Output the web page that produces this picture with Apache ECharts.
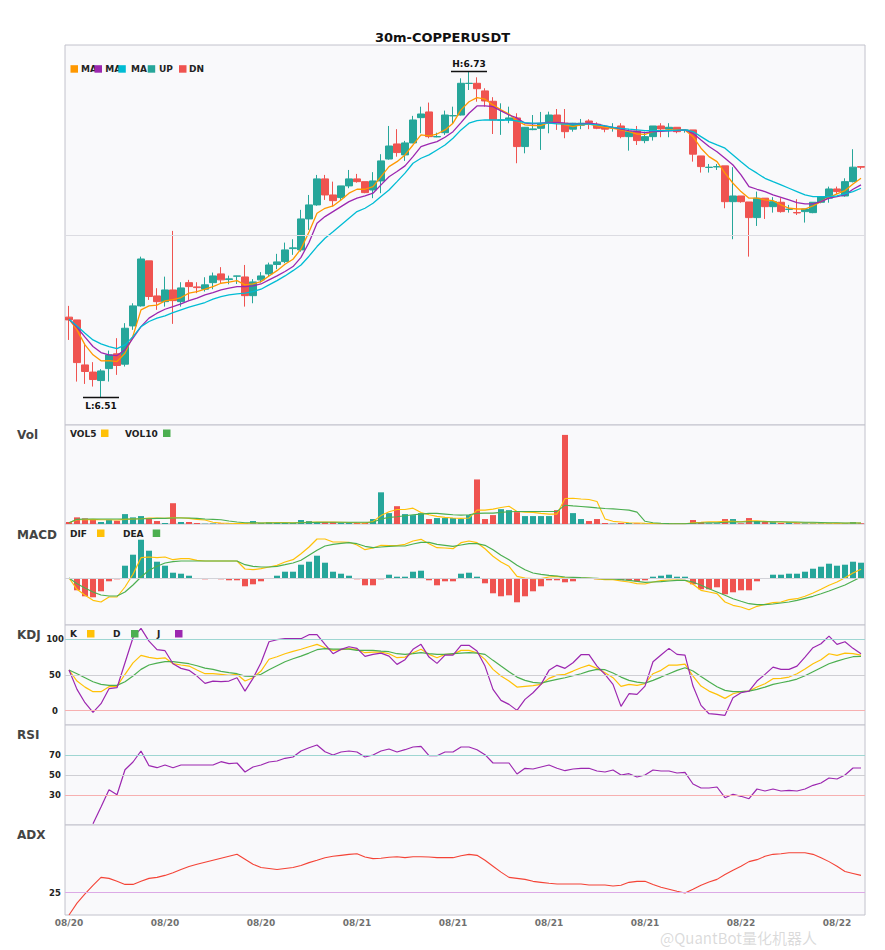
<!DOCTYPE html>
<html><head><meta charset="utf-8">
<script src="https://cdn.jsdelivr.net/npm/echarts@6.0.0/dist/echarts.min.js"></script>
<style>html,body{margin:0;padding:0;background:#fff}#c{width:885px;height:950px}</style>
</head><body><div id="c"></div>
<script>
// ---- data (30m candles, 08/20 08:00 onwards) ----
const startDay = 20, startHour = 8, stepMinutes = 30, candleCount = 100;
const categories = [];
for (let i = 0; i < candleCount; i++) {
  const t = startHour * 60 + i * stepMinutes;
  const d = startDay + Math.floor(t / 1440), m = t % 1440;
  categories.push('08/' + d + ' ' + String(Math.floor(m / 60)).padStart(2, '0') + ':' + String(m % 60).padStart(2, '0'));
}
const open = [6.5638,6.5619,6.5311,6.5262,6.5204,6.5286,6.5387,6.5316,6.5578,6.5715,
6.6023,6.5783,6.5744,6.5824,6.5744,6.5874,6.5845,6.5829,6.5874,6.5934,
6.5895,6.5918,6.5913,6.5785,6.5893,6.5934,6.5998,6.6018,6.6107,6.6098,
6.6310,6.6406,6.6584,6.6474,6.6456,6.6536,6.6584,6.6565,6.6508,6.6570,
6.6720,6.6823,6.6748,6.6830,6.7003,6.7042,6.6871,6.6900,6.7015,6.7021,
6.7237,6.7238,6.7186,6.7115,6.6985,6.6987,6.7001,6.6805,6.6921,6.6930,
6.6965,6.7021,6.6965,6.6924,6.6951,6.6980,6.6958,6.6941,6.6932,6.6946,
6.6873,6.6912,6.6846,6.6873,6.6946,6.6924,6.6937,6.6917,6.6919,6.6741,
6.6662,6.6666,6.6673,6.6428,6.6467,6.6426,6.6319,6.6452,6.6394,6.6424,
6.6375,6.6354,6.6360,6.6353,6.6424,6.6452,6.6515,6.6467,6.6565,6.6668];
const close = [6.5619,6.5327,6.5266,6.5211,6.5270,6.5380,6.5307,6.5562,6.5715,6.6036,
6.5779,6.5744,6.5824,6.5751,6.5838,6.5847,6.5840,6.5859,6.5920,6.5893,
6.5900,6.5920,6.5785,6.5879,6.5920,6.5995,6.6016,6.6098,6.6112,6.6310,
6.6406,6.6584,6.6474,6.6435,6.6536,6.6584,6.6565,6.6490,6.6570,6.6707,
6.6809,6.6764,6.6830,6.6987,6.7028,6.6873,6.6874,6.7021,6.7017,6.7238,
6.7238,6.7201,6.7117,6.6987,6.6987,6.7001,6.6805,6.6937,6.6926,6.6960,
6.7021,6.6965,6.6907,6.6965,6.6965,6.6969,6.6930,6.6924,6.6936,6.6873,
6.6907,6.6846,6.6873,6.6946,6.6926,6.6937,6.6907,6.6919,6.6753,6.6668,
6.6664,6.6668,6.6428,6.6467,6.6428,6.6319,6.6452,6.6394,6.6428,6.6360,
6.6377,6.6351,6.6378,6.6424,6.6463,6.6515,6.6497,6.6565,6.6664,6.6664];
const low = [6.5482,6.5197,6.5181,6.5163,6.5088,6.5197,6.5243,6.5300,6.5551,6.5710,
6.5756,6.5688,6.5710,6.5592,6.5710,6.5756,6.5802,6.5813,6.5829,6.5870,
6.5863,6.5865,6.5710,6.5733,6.5874,6.5915,6.5966,6.6007,6.6064,6.6086,
6.6235,6.6400,6.6440,6.6394,6.6440,6.6520,6.6558,6.6486,6.6452,6.6486,
6.6715,6.6736,6.6707,6.6828,6.6896,6.6862,6.6869,6.6885,6.6965,6.7018,
6.7192,6.7112,6.7078,6.6891,6.6885,6.6965,6.6691,6.6759,6.6917,6.6782,
6.6896,6.6919,6.6862,6.6907,6.6924,6.6924,6.6924,6.6903,6.6907,6.6862,
6.6777,6.6816,6.6828,6.6846,6.6869,6.6869,6.6896,6.6900,6.6702,6.6627,
6.6627,6.6645,6.6383,6.6171,6.6421,6.6052,6.6262,6.6310,6.6353,6.6353,
6.6353,6.6337,6.6285,6.6349,6.6417,6.6421,6.6481,6.6462,6.6560,6.6650];
const high = [6.5715,6.5619,6.5460,6.5330,6.5282,6.5409,6.5494,6.5597,6.5733,6.6052,
6.6023,6.5836,6.5915,6.6228,6.5877,6.5893,6.5877,6.5911,6.5943,6.5980,
6.5922,6.5921,6.5995,6.5898,6.5946,6.6011,6.6071,6.6148,6.6171,6.6372,
6.6474,6.6611,6.6611,6.6565,6.6536,6.6645,6.6618,6.6565,6.6630,6.6753,
6.6946,6.6924,6.6844,6.7015,6.7078,6.7106,6.6900,6.7051,6.7078,6.7272,
6.7318,6.7279,6.7204,6.7143,6.7101,6.7078,6.7033,6.6939,6.7021,6.7042,
6.7044,6.7062,6.7062,6.6967,6.6994,6.6992,6.6971,6.6953,6.6965,6.6965,
6.6924,6.6946,6.6907,6.6946,6.6965,6.6965,6.6937,6.6919,6.6919,6.6741,
6.6686,6.6686,6.6673,6.6664,6.6467,6.6426,6.6497,6.6452,6.6459,6.6452,
6.6406,6.6445,6.6378,6.6424,6.6463,6.6531,6.6531,6.6588,6.6787,6.6668];
const ma5 = [6.5624,6.5551,6.5448,6.5380,6.5339,6.5341,6.5334,6.5391,6.5510,6.5688,
6.5715,6.5720,6.5749,6.5758,6.5772,6.5802,6.5813,6.5829,6.5847,6.5870,
6.5877,6.5888,6.5859,6.5865,6.5881,6.5920,6.5956,6.6000,6.6034,6.6105,
6.6221,6.6349,6.6383,6.6399,6.6440,6.6486,6.6513,6.6513,6.6531,6.6599,
6.6668,6.6702,6.6748,6.6816,6.6885,6.6878,6.6891,6.6919,6.6965,6.7056,
6.7112,6.7140,6.7129,6.7090,6.7056,6.7028,6.6980,6.6953,6.6948,6.6948,
6.6971,6.6971,6.6953,6.6941,6.6953,6.6958,6.6946,6.6937,6.6930,6.6919,
6.6907,6.6891,6.6889,6.6907,6.6912,6.6919,6.6919,6.6919,6.6873,6.6794,
6.6736,6.6702,6.6623,6.6554,6.6497,6.6452,6.6452,6.6440,6.6435,6.6406,
6.6383,6.6378,6.6378,6.6399,6.6428,6.6458,6.6481,6.6504,6.6549,6.6588];
const ma10 = [6.5624,6.5569,6.5501,6.5437,6.5396,6.5380,6.5375,6.5414,6.5494,6.5573,
6.5631,6.5665,6.5692,6.5710,6.5729,6.5751,6.5768,6.5790,6.5806,6.5824,
6.5836,6.5847,6.5847,6.5852,6.5865,6.5893,6.5920,6.5950,6.5984,6.6047,
6.6149,6.6281,6.6326,6.6360,6.6394,6.6428,6.6452,6.6467,6.6486,6.6543,
6.6599,6.6634,6.6673,6.6736,6.6805,6.6823,6.6839,6.6869,6.6907,6.6969,
6.7033,6.7083,6.7083,6.7078,6.7049,6.7021,6.7001,6.6965,6.6960,6.6965,
6.6971,6.6971,6.6965,6.6960,6.6960,6.6965,6.6958,6.6946,6.6937,6.6924,
6.6914,6.6907,6.6900,6.6907,6.6910,6.6912,6.6914,6.6919,6.6896,6.6850,
6.6805,6.6770,6.6725,6.6679,6.6611,6.6531,6.6513,6.6497,6.6474,6.6458,
6.6440,6.6421,6.6413,6.6413,6.6428,6.6452,6.6463,6.6474,6.6513,6.6543];
const ma20 = [6.5624,6.5578,6.5528,6.5482,6.5455,6.5437,6.5423,6.5448,6.5505,6.5573,
6.5608,6.5631,6.5647,6.5669,6.5688,6.5706,6.5722,6.5738,6.5761,6.5779,
6.5790,6.5797,6.5802,6.5813,6.5829,6.5859,6.5888,6.5920,6.5956,6.5995,
6.6055,6.6121,6.6178,6.6223,6.6269,6.6315,6.6360,6.6383,6.6417,6.6463,
6.6508,6.6565,6.6623,6.6691,6.6725,6.6748,6.6782,6.6816,6.6862,6.6919,
6.6965,6.6982,6.6987,6.6987,6.6987,6.6987,6.6980,6.6969,6.6965,6.6965,
6.6965,6.6960,6.6958,6.6958,6.6958,6.6958,6.6953,6.6946,6.6937,6.6930,
6.6924,6.6919,6.6914,6.6914,6.6914,6.6914,6.6917,6.6919,6.6907,6.6873,
6.6839,6.6816,6.6794,6.6748,6.6702,6.6657,6.6623,6.6588,6.6565,6.6543,
6.6520,6.6497,6.6474,6.6463,6.6463,6.6463,6.6467,6.6481,6.6497,6.6520];
const vol = [2,6.7,5.7,4.3,2,4,3.3,10,6.7,8,
5.7,3,1,21,2,2,1,0.3,0.5,0.5,
0.3,0.3,1,3,1,2,1,1,1,4,
3,2,2,2,1,1,1,1,5,32,
11,18,10,9,11,5,6,6,6,5,
9,45,5,9,15,14,12,8,8,8,
8,14,90,11,5,3,5,1,0.3,1,
1,0.7,0.5,0.3,0.3,0.3,0.3,0.2,4,2,
0.7,0.7,5,5,0.7,6,3,2,2,1,
2,0.7,0.7,0.7,0.7,0.7,0.7,0.7,2,0.7];
const vol5 = [1.3,4.3,4.3,4.7,4.3,4.3,4,4.7,5,5.3,
6,6,5.7,6.3,6.3,5.7,4.7,4,1.7,1,
0.7,0.5,0.5,1,1,1.3,1.5,1.5,1.2,1.5,
1.8,2,2,2,1.8,1.5,1.2,1,2.5,8.5,
12.3,14.7,14.7,16,11.7,9.3,7.7,6.7,6,5.7,
6,14,14,15,16.7,18,12.7,12,11.7,10.7,
10,10,25.7,26,25.3,24.7,22.7,5,2.7,2,
1.3,1,0.7,0.5,0.4,0.3,0.3,0.3,1.3,1.7,
2.3,2.3,2.7,2.7,2.3,3.3,3.3,2.7,2,2,
1.7,1.4,1.2,1,1,0.8,0.8,0.8,1,1];
const vol10 = [1.3,4.7,5,5,5,5,5,5,5,5.3,
5.3,5.7,5.7,6,6,6,5.7,5,4.7,4.3,
3,2,1.3,1.3,1,1,1,1,1,1.3,
1.5,1.6,1.7,1.8,1.8,1.8,1.8,1.7,1.7,5,
6.7,7.3,8.3,9.3,10,10.7,10.7,10,9.3,9,
9.3,10.7,11,11,11.7,12.3,12.7,12.7,12.7,12.7,
12.7,12.7,19,18.3,17.7,17,16.3,15.7,15.3,14.7,
14,12,2.7,1.3,0.7,0.4,0.3,0.3,0.7,1,
1.2,1.3,1.7,2,2,2.3,2.3,2.3,2.3,2.2,
2,2,1.8,1.7,1.5,1.3,1.2,1,1,1];
const macdHist = [0,-12.3,-18.3,-19.3,-13.3,-3.3,-1.3,12.3,23.3,38.3,
27.3,16.3,12.3,5.3,4.3,2.3,0,-1.3,0,-1.3,
-2.3,-2.3,-8.3,-6.3,-3.3,0,2.3,6.3,6.3,13.3,
16.3,22.3,15.3,6.3,4.3,2.3,-1.3,-7.3,-7.3,-1.3,
3.3,1.3,1.3,6.3,7.3,-2.3,-7.3,-3.3,-3.3,4.3,
5.3,1.3,-5.3,-15.3,-18.3,-17.3,-24.3,-18.3,-13.3,-8.3,
-2.3,-2.3,-4.3,-3.3,0,0,-1.3,-1.3,-1.3,-2.3,
-2.3,-3.3,-2.3,1.3,2.3,3.3,1.3,1.3,-6.3,-11.3,
-11.3,-9.3,-16.3,-14.3,-12.3,-12.3,-3.3,-0.7,3.3,3.3,
4.3,4.3,6.3,9.3,11.3,14.3,12.3,13.3,16.3,15.3];
const dif = [0,-11.3,-17.3,-22.3,-24,-19,-19,-9,3.7,20.3,
21,20.3,21,18.3,19.3,19.3,17.7,17,17,17,
17,17,9,8.3,9.3,11,12.7,16,18.3,24.3,
31,39,39,36,36,35.7,33,28.3,30,32.7,
32.3,32.3,33.7,37,38.7,34.3,30.3,30,29.3,35.3,
37,35.3,29.3,21.7,16,11.7,1.7,0,-0.7,-0.7,
1,1.7,0,0,0,0,-1,-1.7,-1.7,-3,
-4,-5.7,-6,-4,-2.7,-2,-2,-2.3,-6.3,-12.3,
-14,-15.7,-24,-27.3,-29,-31.7,-28.3,-26.3,-24.7,-24,
-21.7,-20.7,-18.3,-15,-11.3,-7.3,-4,0.3,5,8.7];
const dea = [0,-5.7,-10,-14,-17,-18,-18,-14,-7,1,
7.7,11.7,15,16.3,17,17,17,17,17,17,
17,17,13.3,11.7,11,11,11.7,13.3,15,17.7,
22.7,27.7,32,33.7,34.7,35.3,34.3,31.7,30.3,31,
31.7,32,32,34,35.7,35.7,33.7,32.7,31.7,33,
34.3,34.3,32.7,28.3,22.7,18.3,12.7,8.3,5,3.7,
2.7,2,1,0.7,0.3,0,-0.3,-1,-1,-1.7,
-2.3,-3.3,-4.3,-4,-3.7,-3,-2.3,-2.3,-4,-7.3,
-10.7,-14,-17.3,-20.7,-23.3,-25.7,-26.7,-26.7,-26,-25,
-24,-22.3,-20.3,-18.3,-15.7,-13,-10,-7,-3,1];
const kVal = [57,41.5,33,26.6,26.6,33.6,34,51,67,77.5,
74.7,72.8,74,65.8,64,62.5,57,51.8,51.8,51,
49.5,51,41.5,46.2,55.5,72,75.6,79.8,83,86,
89.6,92.9,88.2,84.5,85.4,86.8,85.4,81.2,82,82,
79.8,74.2,75,81.2,86,78.9,74.2,78.9,78.9,84.5,
84.5,81.2,71.9,57.9,48.5,41.5,33.1,34.1,35,36.9,
45.3,49.9,50.9,55.5,60.2,63.9,59.3,53.2,46.2,34.1,
36.9,35.5,37.8,51.8,56.5,63.9,63.9,65.3,48.5,34.5,
27.5,22.9,17.3,23.8,26.6,27.5,33.1,37.8,44.8,45.3,
47.1,51.8,58.3,65.8,71.4,79.8,77.5,80.7,79.8,77.9];
const dVal = [57,51.8,46.2,40.6,36.9,35.5,35.5,40.6,48.5,57.9,
64,66.7,68.6,68.6,67.2,65.8,63,59.7,57.9,55,
53.2,51.8,48.5,48,51,57.4,63,68.6,72.8,76.5,
80.7,85.4,86.8,86.3,86.3,86.3,84.5,84.5,84.5,83.5,
82.6,79.8,78.9,79.8,81.2,79.8,78.9,78.9,79.8,80.7,
81.2,80.7,78.9,70.5,62.5,54.6,47.1,42.5,39.7,38.7,
41.5,43.9,46.2,49,51.8,55.5,57.9,57.4,52.7,47.1,
42.5,40.1,38.7,42.5,47.1,51.8,56.5,60.2,55.5,48,
40.6,33.6,28.5,26.6,26.6,27.5,29.9,33.1,36.9,39.2,
41.5,44.3,49,54.6,60.2,65.8,69.5,72.8,75.6,76.1];
const jVal = [57,29.9,11.2,-2.3,9.8,30.8,32.2,67.2,102.2,115.3,
97.5,85.4,84,65.8,59.3,56.5,48.5,38.3,41.5,40.6,
41.5,46.2,27.5,45.3,67.2,96.6,99.4,100.8,100.8,100.8,
106.4,106.4,92.9,79.8,85.9,89.6,87.3,76,78.9,80.7,
76.5,64.9,71.4,85.9,92.9,75.1,66.3,77.9,77.9,91.5,
91.5,83.5,62.5,29.9,14.5,8.9,0.5,15.9,25.2,36.9,
56.5,63.5,59.3,67.2,78.4,78.4,62.5,50.9,36.9,6.1,
23.8,22.9,34.5,68.6,77.9,87.3,78.9,77.9,34.5,7.5,
-4.2,-5.1,-6.5,18.2,25.2,27.5,41.5,50.9,61.1,57.9,
57.9,62.5,75.1,88.2,93.8,104.5,92.9,96.6,87.3,79.8];
const rsi = [null,null,null,1.3,18,35.3,30.3,55.3,63,74,
59.3,57.3,60,57.3,60,60,60,60,60,63.3,
61.3,62,53,58,60,63,64,66.7,68,74,
77.3,80,73.3,70,73,74,73,68,70,74,
76,73,75.3,78,78.7,69.3,69.3,73,73,78,
78,75.3,70.3,62,62,62,51,56.7,56,58,
60,56.7,54.3,56,56.7,56.7,54,53,55,50,
51.3,48,50,55,54,54,52,52.7,41,37,
37,38,27.3,30.7,28.7,26.3,36,34,36,34,
34.7,34,36,39.7,42,47,46,50,57,57];
const adx = [0,13.2,23.4,33,41.8,40.7,37.4,34,34,37.4,
40.7,41.8,44,46.9,50.5,53.8,56.4,58.6,60.8,63,
65.2,67.4,61.9,56.4,52.7,51.6,50.5,51.6,52.7,54.9,
58.2,60.8,63.7,65.2,66.3,67.4,68.1,64.5,62.6,63,
64.1,64.8,63.7,64.8,64.8,64.5,63.7,63.7,63.7,65.9,
67.4,66.3,60.8,54.2,47.6,41.8,40.7,39.6,37.4,36.3,
35.2,34.4,34.4,34.4,34.4,33.3,33.3,33.3,32.2,33,
36.3,37.4,37.4,34,30.8,28.6,26.4,24.5,28.6,33,
36.6,39.6,45.1,49.8,54.2,59.3,61.5,65.2,67.4,68.1,
69.2,69.2,69.2,67.4,63.7,59.3,54.2,48.4,46.2,44];
const priceGridLine = 6.62;
const kdjLevels = [0, 50, 100];
const rsiLevels = [30, 50, 70];
const adxLevels = [25];

// ---- styling ----
const UP = '#26a69a', DN = '#ef5350';
const C_MA5 = '#ff9800', C_MA10 = '#9c27b0', C_MA20 = '#00bcd4';
const C_Y = '#ffc107', C_G = '#4caf50', C_P = '#9c27b0';
const FONT = '"DejaVu Sans", sans-serif';
const chart = echarts.init(document.getElementById('c'), null, {renderer: 'svg'});

const candleData = open.map((o, i) => [o, close[i], low[i], high[i]]);
const volData = vol.map((v, i) => ({value: v, itemStyle: {color: close[i] >= open[i] ? UP : DN}}));
const macdData = macdHist.map(v => ({value: v, itemStyle: {color: v >= 0 ? UP : DN}}));

const gridDefs = [[45, 380], [425, 99], [524, 101], [625, 100], [725, 100], [825, 90]];
const grids = gridDefs.map(g => ({left: 65, right: 20, top: g[0], height: g[1], show: true,
  backgroundColor: '#f9f9fb', borderColor: '#c2c2cc', borderWidth: 1, containLabel: false, outerBoundsMode: 'none'}));

const xAxes = gridDefs.map((g, k) => ({
  type: 'category', gridIndex: k, data: categories, boundaryGap: true,
  axisLine: {show: false}, axisTick: {show: false}, splitLine: {show: false},
  axisLabel: k === 5 ? {show: true, interval: 11, margin: 3, color: '#707070', fontWeight: 'bold', fontSize: 9,
    fontFamily: FONT, formatter: v => v.slice(0, 5)} : {show: false}
}));

function hiddenY(k, extra) {
  return Object.assign({type: 'value', gridIndex: k, axisLine: {show: false}, axisTick: {show: false},
    splitLine: {show: false}, axisLabel: {show: false}}, extra);
}
function labelledY(k, min, max, interval, levels) {
  return hiddenY(k, {min, max, interval, axisLabel: {show: true, align: 'center', margin: 10, color: '#222',
    fontWeight: 'bold', fontSize: 8.5, fontFamily: FONT, formatter: v => levels.indexOf(v) >= 0 ? String(v) : ''}});
}
const yAxes = [
  hiddenY(0, {min: 6.49, max: 6.75}),
  hiddenY(1, {min: 0, max: 100}),
  hiddenY(2, {min: -47, max: 54}),
  labelledY(3, -20, 120, 10, kdjLevels),
  labelledY(4, 0, 100, 10, rsiLevels),
  labelledY(5, 0, 100, 5, adxLevels)
];

function levelLines(values, colors) {
  return {silent: true, symbol: ['none', 'none'], label: {show: false}, animation: false,
    data: values.map((v, i) => ({yAxis: v, lineStyle: {color: colors[i], type: 'solid', width: 1}}))};
}
function line(name, data, color, k, w, extra) {
  return Object.assign({name, type: 'line', xAxisIndex: k, yAxisIndex: k, data, symbol: 'none', showSymbol: false,
    silent: true, lineStyle: {color, width: w || 1.2}, itemStyle: {color}, z: 3}, extra || {});
}

const series = [
  {name: 'K线', type: 'candlestick', xAxisIndex: 0, yAxisIndex: 0, data: candleData, barWidth: '82%',
   itemStyle: {color: UP, color0: DN, borderColor: UP, borderColor0: DN, borderWidth: 1},
   markLine: levelLines([priceGridLine], ['#dcdce2']),
   markPoint: {symbol: 'rect', symbolSize: [36, 1.5], itemStyle: {color: '#111'}, silent: true,
     label: {show: true, color: '#111', fontWeight: 'bold', fontSize: 9, fontFamily: FONT},
     data: [
       {type: 'max', valueDim: 'highest', label: {position: 'top', distance: 2, formatter: p => 'H:' + p.value.toFixed(2)}},
       {type: 'min', valueDim: 'lowest', label: {position: 'bottom', distance: 3, formatter: p => 'L:' + p.value.toFixed(2)}}
     ]}},
  line('MA5', ma5, C_MA5, 0, 1.3),
  line('MA10', ma10, C_MA10, 0, 1.3),
  line('MA20', ma20, C_MA20, 0, 1.3),
  {name: 'Vol', type: 'bar', xAxisIndex: 1, yAxisIndex: 1, data: volData, barWidth: '75%', silent: true},
  line('VOL5', vol5, C_Y, 1, 1.1),
  line('VOL10', vol10, C_G, 1, 1.1),
  {name: 'MACD', type: 'bar', xAxisIndex: 2, yAxisIndex: 2, data: macdData, barWidth: '75%', silent: true},
  line('DIF', dif, C_Y, 2, 1.2, {markLine: levelLines([0], ['#d2d2d8'])}),
  line('DEA', dea, C_G, 2, 1.2),
  line('K', kVal, C_Y, 3, 1.2, {markLine: levelLines(kdjLevels, ['#f7b0b0', '#cfcfd4', '#9fd6d2'])}),
  line('D', dVal, C_G, 3, 1.2),
  line('J', jVal, C_P, 3, 1.2),
  line('RSI', rsi, C_P, 4, 1.2, {markLine: levelLines(rsiLevels, ['#f7b0b0', '#cfcfd4', '#9fd6d2'])}),
  line('ADX', adx, '#f44336', 5, 1.1, {markLine: levelLines(adxLevels, ['#dcaae6'])})
];

function sq(x, y, c) { return {type: 'rect', shape: {x: x, y: y, width: 7.5, height: 7.5}, style: {fill: c}, z: 100, silent: true}; }
function tx(x, y, t, font, fill) {
  return {type: 'text', x: x, y: y, z: 99, silent: true,
    style: {text: t, font: font || ('bold 9px ' + FONT), fill: fill || '#222', align: 'left', verticalAlign: 'middle',
      textAlign: 'left', textVerticalAlign: 'middle'}};
}
const PANEL_FONT = 'bold 12px ' + FONT;
const graphic = [
  // main legend
  tx(81, 69, 'MA'), sq(70.5, 65.2, C_MA5),
  tx(105.3, 69, 'MA'), sq(94.5, 65.2, C_MA10),
  tx(131, 69, 'MA'), sq(118.3, 65.2, C_MA20),
  tx(159, 69, 'UP'), sq(147.7, 65.2, UP),
  tx(189, 69, 'DN'), sq(179, 65.2, DN),
  // vol legend
  tx(70, 433.5, 'VOL5'), sq(101, 429.5, C_Y), tx(125, 433.5, 'VOL10'), sq(163, 429.5, C_G),
  // macd legend
  tx(70, 533.5, 'DIF'), sq(97, 529.5, C_Y), tx(123, 533.5, 'DEA'), sq(152.7, 529.5, C_G),
  // kdj legend
  tx(70, 634, 'K'), sq(87, 630, C_Y), tx(113, 634, 'D'), sq(131, 630, C_G), tx(157, 634, 'J'), sq(175, 630, C_P),
  // panel names
  tx(17, 435, 'Vol', PANEL_FONT, '#444'),
  tx(17, 535, 'MACD', PANEL_FONT, '#444'),
  tx(17, 635, 'KDJ', PANEL_FONT, '#444'),
  tx(17, 735, 'RSI', PANEL_FONT, '#444'),
  tx(17, 835, 'ADX', PANEL_FONT, '#444'),
  // watermark (kept below the date labels so the two do not overlap)
  tx(660, 937, '@QuantBot量化机器人', '15px "Noto Sans CJK SC", sans-serif', 'rgba(150,150,150,0.35)')
];

chart.setOption({
  animation: false,
  backgroundColor: '#ffffff',
  textStyle: {fontFamily: FONT},
  title: {text: '30m-COPPERUSDT', left: 'center', top: 26, textStyle: {fontSize: 13, fontWeight: 'bold', color: '#111', fontFamily: FONT}},
  grid: grids,
  xAxis: xAxes,
  yAxis: yAxes,
  series: series,
  graphic: graphic
});
</script></body></html>
